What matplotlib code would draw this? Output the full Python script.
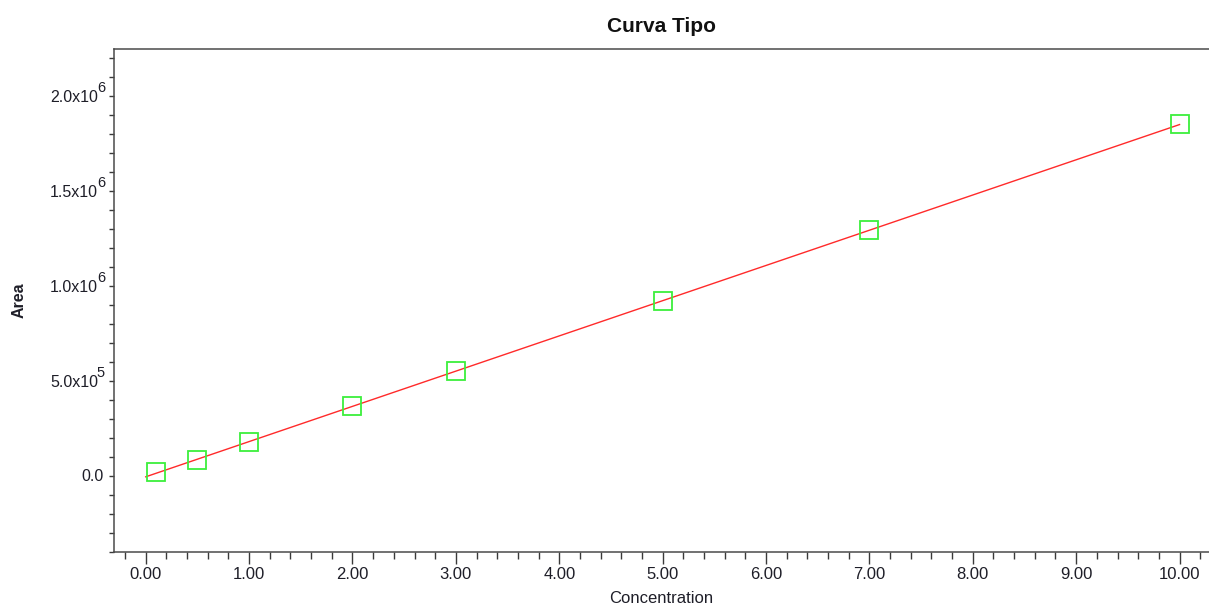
import numpy as np
import matplotlib
matplotlib.use("Agg")
import matplotlib.pyplot as plt
from matplotlib.ticker import MultipleLocator, FixedLocator, NullFormatter, FormatStrFormatter

plt.rcParams['font.family'] = ['Liberation Sans', 'DejaVu Sans']

# Data
concentration = [0.1, 0.5, 1.0, 2.0, 3.0, 5.0, 7.0, 10.0]
area = [19000, 86000, 179000, 367000, 551000, 919000, 1293000, 1850000]
fit_range = [0.0, 10.0]
y_major_ticks = [0.0, 5.0e5, 1.0e6, 1.5e6, 2.0e6]
y_label_base = ['0.0', '5.0x10', '1.0x10', '1.5x10', '2.0x10']
y_label_exp = ['', '5', '6', '6', '6']

fig = plt.figure(figsize=(12.09, 6.07), dpi=100)
ax = fig.add_axes([114/1209, 1 - 552/607, 1 - 114/1209, (552 - 49)/607])

coef = np.polyfit(concentration, area, 1)
xf = np.array(fit_range)
ax.plot(xf, np.polyval(coef, xf), color='#ff2a2a', lw=1.0, zorder=2)
ax.plot(concentration, area, linestyle='none', marker='s', markersize=12.5,
        markerfacecolor='none', markeredgecolor='#3cef3c', markeredgewidth=1.3, zorder=3)

ax.set_xlim(-0.307, 10.285)
ax.set_ylim(-4.0e5, 2.246e6)

ax.xaxis.set_major_locator(MultipleLocator(1.0))
ax.xaxis.set_minor_locator(MultipleLocator(0.2))
ax.xaxis.set_major_formatter(FormatStrFormatter('%.2f'))
ax.yaxis.set_major_locator(FixedLocator(y_major_ticks))
ax.yaxis.set_major_formatter(NullFormatter())
ax.yaxis.set_minor_locator(MultipleLocator(1.0e5))

ax.spines['right'].set_visible(False)
for s in ['left', 'bottom', 'top']:
    ax.spines[s].set_color('#4a4a4a')
    ax.spines[s].set_linewidth(1.1)

tc = '#1e1e28'
ax.tick_params(axis='x', which='major', direction='out', length=8.6, width=1.0,
               color='#3a3a3a', labelsize=12, labelcolor=tc, pad=2)
ax.tick_params(axis='x', which='minor', direction='out', length=5, width=1.0, color='#3a3a3a')
ax.tick_params(axis='y', which='both', direction='out', length=3.6, width=1.0,
               color='#3a3a3a')

# y tick labels with large superscripts
for val, base, exp in zip(y_major_ticks, y_label_base, y_label_exp):
    if exp:
        ax.annotate(exp, xy=(0, val), xycoords=('axes fraction', 'data'),
                    xytext=(-9, 1), textcoords='offset pixels', ha='right', va='bottom',
                    fontsize=10.5, color=tc, annotation_clip=False)
        ax.annotate(base, xy=(0, val), xycoords=('axes fraction', 'data'),
                    xytext=(-16, -2), textcoords='offset pixels', ha='right', va='center',
                    fontsize=11.5, color=tc, annotation_clip=False)
    else:
        ax.annotate(base, xy=(0, val), xycoords=('axes fraction', 'data'),
                    xytext=(-10, -1), textcoords='offset pixels', ha='right', va='center',
                    fontsize=11.5, color=tc, annotation_clip=False)

ax.set_title('Curva Tipo', fontsize=15, fontweight='bold', color='#111111', pad=12)
ax.set_xlabel('Concentration', fontsize=12, color=tc, labelpad=7)
ax.set_ylabel('Area', fontsize=11.5, fontweight='bold', color=tc)
ax.yaxis.set_label_coords(-0.08, 0.5)

fig.savefig('out.png', dpi=100)
